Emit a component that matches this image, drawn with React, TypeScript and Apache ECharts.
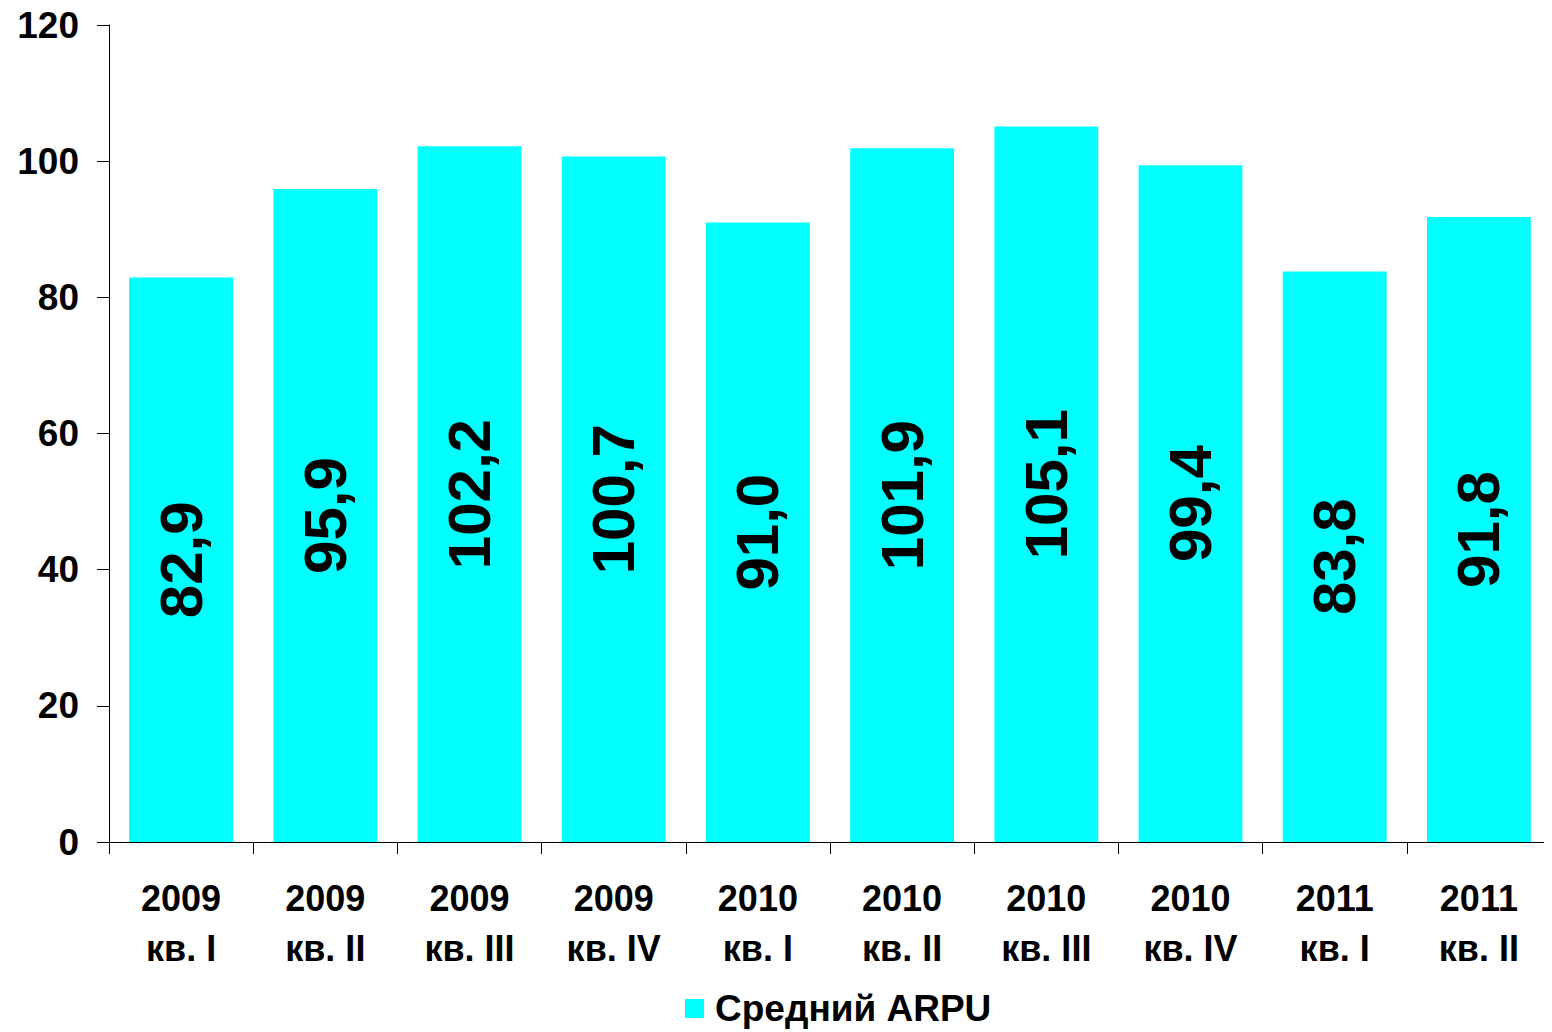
import React, { useEffect, useRef } from "react";
import * as echarts from "echarts";

const categories = [
  "2009\nкв. I", "2009\nкв. II", "2009\nкв. III", "2009\nкв. IV",
  "2010\nкв. I", "2010\nкв. II", "2010\nкв. III", "2010\nкв. IV",
  "2011\nкв. I", "2011\nкв. II",
];
const arpuValues = [82.9, 95.9, 102.2, 100.7, 91.0, 101.9, 105.1, 99.4, 83.8, 91.8];
const seriesName = "Средний ARPU";
const yTicks = { min: 0, max: 120, interval: 20 };

export default function App() {
  const ref = useRef<HTMLDivElement>(null);
  useEffect(() => {
    if (!ref.current) return;
    const chart = echarts.init(ref.current, undefined, { renderer: "svg" });
    const font = "'Liberation Sans', Arial, sans-serif";
    chart.setOption({
      animation: false,
      textStyle: { fontFamily: font },
      grid: { left: 109, top: 25, right: 1, bottom: 190, containLabel: false },
      legend: {
        show: true,
        bottom: 0,
        left: 680,
        itemWidth: 19,
        itemHeight: 19,
        icon: "rect",
        textStyle: {
          fontSize: 37,
          fontWeight: "bold",
          color: "#000",
          fontFamily: font,
          padding: [0, 0, 0, 6],
        },
        data: [seriesName],
      },
      xAxis: {
        type: "category",
        data: categories,
        axisLine: { show: true, lineStyle: { color: "#000", width: 1 } },
        axisTick: { show: true, length: 12, alignWithLabel: false, lineStyle: { color: "#000" } },
        axisLabel: {
          color: "#000",
          fontSize: 36,
          fontWeight: "bold",
          fontFamily: font,
          lineHeight: 50,
          margin: 31,
          interval: 0,
        },
      },
      yAxis: {
        type: "value",
        min: yTicks.min,
        max: yTicks.max,
        interval: yTicks.interval,
        splitLine: { show: false },
        axisLine: { show: true, lineStyle: { color: "#000", width: 1 } },
        axisTick: { show: true, length: 12, lineStyle: { color: "#000" } },
        axisLabel: {
          color: "#000",
          fontSize: 37,
          fontWeight: "bold",
          fontFamily: font,
          margin: 30,
        },
      },
      series: [
        {
          name: seriesName,
          type: "bar",
          data: arpuValues,
          barCategoryGap: "28%",
          itemStyle: { color: "#00FFFF" },
          label: {
            show: true,
            position: "inside",
            rotate: 90,
            fontSize: 60,
            fontWeight: "bold",
            color: "#000",
            fontFamily: font,
            formatter: (p: any) => p.value.toFixed(1).replace(".", ","),
          },
        },
      ],
    });
    return () => chart.dispose();
  }, []);
  return (
    <div
      ref={ref}
      style={{ width: 1552, height: 1032, marginTop: -8, marginLeft: -8 }}
    />
  );
}
